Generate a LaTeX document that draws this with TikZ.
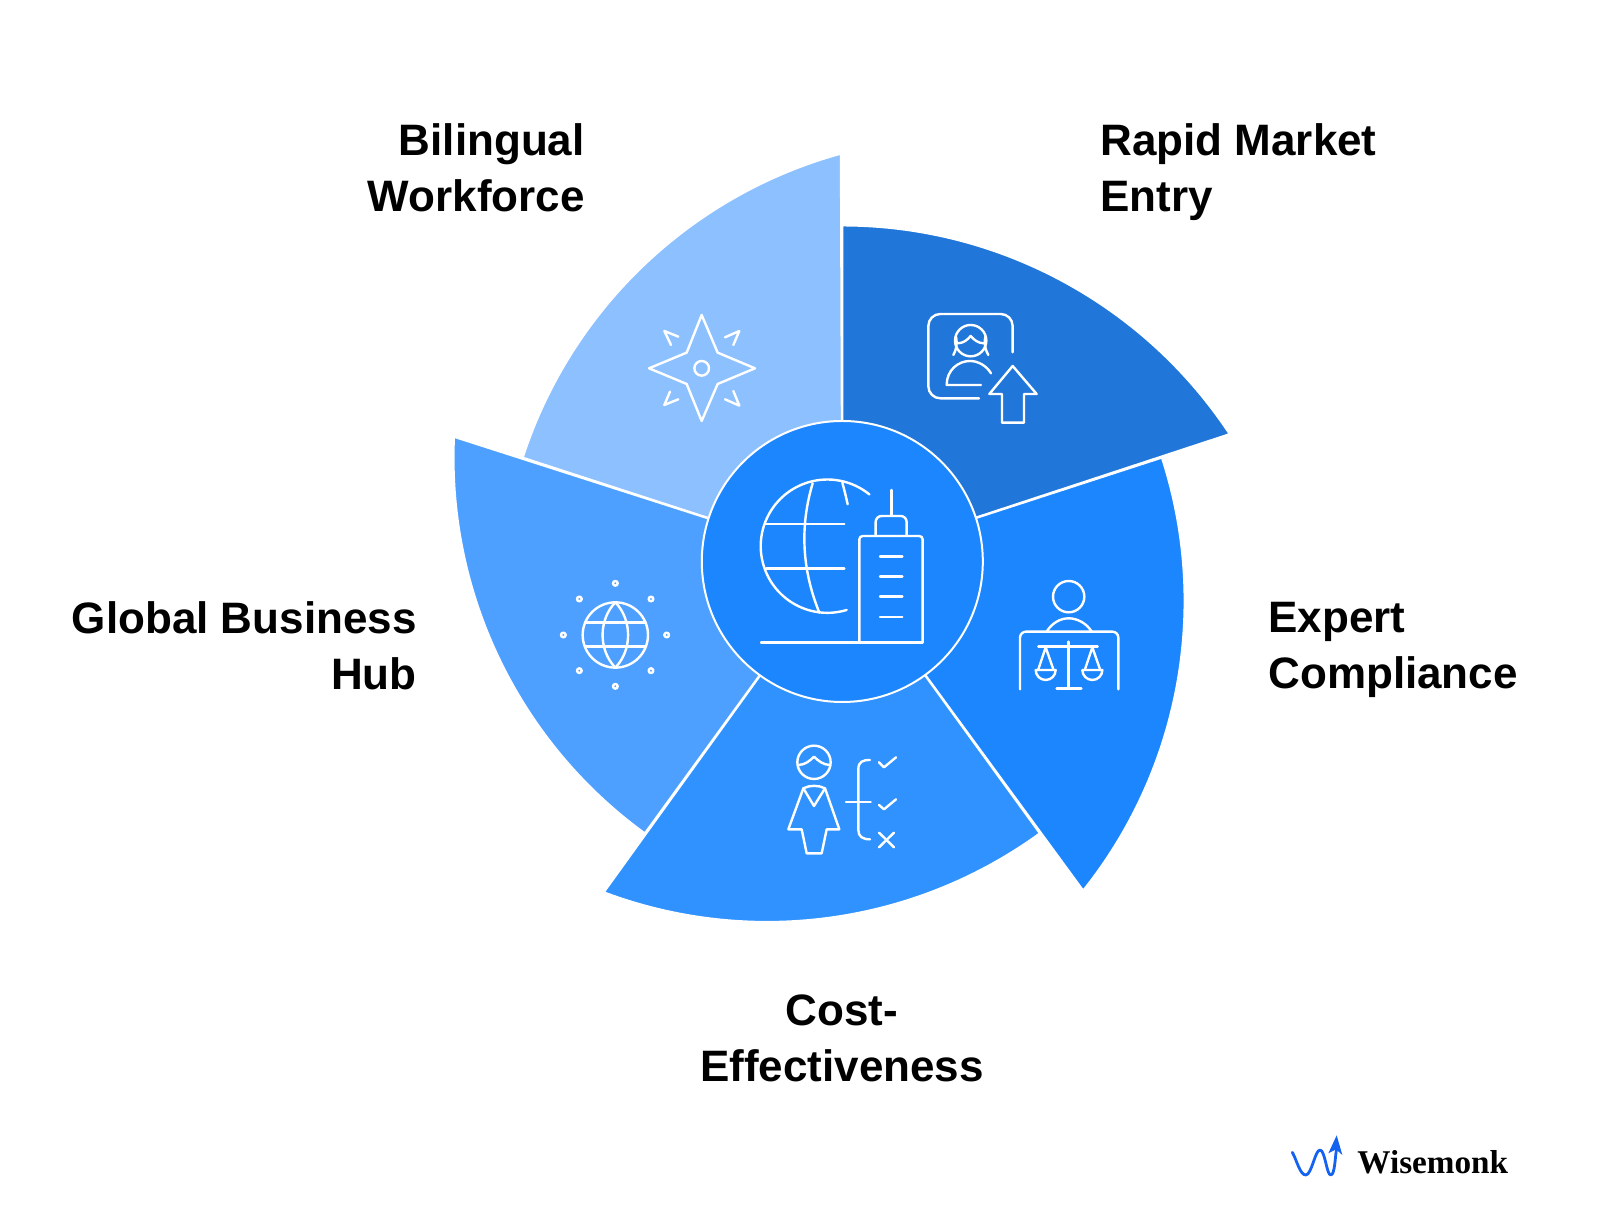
\documentclass[tikz,border=0pt]{standalone}
\usepackage{fontspec}
\setmainfont{Liberation Sans}
\newfontfamily\logofont{Liberation Serif}
\usepackage{xcolor}
\definecolor{bilingualblue}{HTML}{8DC0FF}
\definecolor{rapidblue}{HTML}{2176D9}
\definecolor{expertblue}{HTML}{1C86FF}
\definecolor{costblue}{HTML}{3092FF}
\definecolor{globalblue}{HTML}{4DA0FF}
\definecolor{logoblue}{HTML}{1463F0}
\tikzset{
	wedge/.style={draw=white, line width=1pt, line join=round},
	iconline/.style={white, line width=1.2pt, line cap=round, line join=round},
	label/.style={font=\fontsize{22}{28}\selectfont\bfseries, inner sep=0pt, text depth=0pt}
}

\begin{document}
\begin{tikzpicture}[x=0.5pt, y=0.5pt]
	\useasboundingbox (0,0) rectangle (1600,1209);
	\begin{scope}[shift={(842.3,647.5)}]
	\draw[wedge, fill=bilingualblue] (0,0) -- (162:336) arc[start angle=162, delta angle=-56.6, radius=464] -- cycle;
	\draw[wedge, fill=rapidblue] (0,0) -- (90:336) arc[start angle=90, delta angle=-56.6, radius=464] -- cycle;
	\draw[wedge, fill=expertblue] (0,0) -- (18:336) arc[start angle=18, delta angle=-56.6, radius=464] -- cycle;
	\draw[wedge, fill=costblue] (0,0) -- (-54:336) arc[start angle=-54, delta angle=-56.6, radius=464] -- cycle;
	\draw[wedge, fill=globalblue] (0,0) -- (-126:336) arc[start angle=-126, delta angle=-56.6, radius=464] -- cycle;
	\node (hub) [circle, draw=white, fill=expertblue, line width=1pt, minimum size=140.5pt, inner sep=0pt] at (0,0) {};
	\end{scope}

	\begin{scope}[shift={(880,919)}, yscale=-1, scale=0.3333, iconline]
	\draw[rounded corners=6pt] (398,187) -- (398,72) -- (145,72) -- (145,325) -- (297,325);
	\draw (272,152) circle[radius=47];
	\draw (220,195) .. controls (230,175) and (232,165) .. (228,140);
	\draw (325,195) .. controls (315,175) and (312,165) .. (316,140);
	\draw (232,160) .. controls (250,160) and (262,150) .. (272,138) .. controls (282,150) and (295,160) .. (312,160);
	\draw (303,285) -- (200,285) .. controls (200,240) and (235,213) .. (270,213) .. controls (295,213) and (320,228) .. (333,250);
	\draw (398,228) -- (470,312) -- (432,312) -- (432,398) -- (366,398) -- (366,312) -- (328,312) -- cycle;
	\end{scope}

	\begin{scope}[shift={(620,919)}, yscale=-1, scale=0.3333, iconline]
	\draw (245,75) -- (293,188) -- (405,235) -- (293,282) -- (245,393) -- (200,282) -- (87,235) -- (200,188) -- cycle;
	\draw (245,235) circle[radius=22];
	\draw (175,140) -- (133,123) -- (153,165);
	\draw (315,142) -- (358,123) -- (340,165);
	\draw (175,328) -- (133,345) -- (150,305);
	\draw (315,328) -- (358,347) -- (340,303);
	\end{scope}

	\begin{scope}[shift={(730,749)}, yscale=-1, scale=0.3333, iconline]
	\draw (350,450) arc[start angle=73.2, end angle=309.1, radius=200];
	\draw (248,70) .. controls (212,190) and (212,320) .. (268,458);
	\draw (337,68) .. controls (343,90) and (348,110) .. (353,133);
	\draw (108,192) -- (343,192);
	\draw (108,326) -- (343,326);
	\draw (93,547) -- (578,547);
	\draw[rounded corners=1.7pt] (388,547) -- (388,228) -- (578,228) -- (578,547);
	\draw[rounded corners=3pt] (437,228) -- (437,168) -- (530,168) -- (530,228);
	\draw (484,90) -- (484,165);
	\draw (450,289) -- (517,289);
	\draw (450,349) -- (517,349);
	\draw (450,410) -- (517,410);
	\draw (450,471) -- (517,471);
	\end{scope}

	\begin{scope}[shift={(1000,649)}, yscale=-1, scale=0.3333, iconline]
	\draw (206,110) circle[radius=47];
	\draw (140,215) .. controls (155,190) and (180,175) .. (206,175) .. controls (232,175) and (260,190) .. (275,215);
	\draw[rounded corners=3pt] (60,388) -- (60,215) -- (355,215) -- (355,388);
	\draw (206,245) -- (206,385);
	\draw (170,385) -- (244,385);
	\draw (115,259) -- (293,259);
	\draw (115,328) -- (137,262) -- (160,328);
	\draw (107,330) -- (167,330) arc[start angle=0, end angle=180, radius=30];
	\draw (255,328) -- (277,262) -- (300,328);
	\draw (247,330) -- (307,330) arc[start angle=0, end angle=180, radius=30];
	\end{scope}

	\begin{scope}[shift={(770,479)}, yscale=-1, scale=0.3333, iconline]
	\draw (132,97) circle[radius=50];
	\draw (85,105) .. controls (105,105) and (120,92) .. (132,80) .. controls (144,92) and (160,105) .. (180,105);
	\draw (100,175) .. controls (120,165) and (145,165) .. (165,175) -- (208,298) -- (170,298) -- (155,370) -- (110,370) -- (95,298) -- (55,298) -- cycle;
	\draw (100,175) -- (132,228) -- (165,175);
	\draw (300,90) .. controls (278,90) and (265,95) .. (265,118) -- (265,300) .. controls (265,320) and (278,328) .. (300,328);
	\draw (228,216) -- (302,216);
	\draw (327,97) -- (342,112) -- (378,82);
	\draw (327,225) -- (342,238) -- (378,208);
	\draw (327,308) -- (372,352);
	\draw (372,308) -- (327,352);
	\end{scope}

	\begin{scope}[shift={(550,639)}, yscale=-1, scale=0.3333, iconline]
	\draw (196,195) circle[radius=98];
	\draw (196,97) .. controls (145,150) and (145,240) .. (196,293);
	\draw (196,97) .. controls (247,150) and (247,240) .. (196,293);
	\draw (105,158) -- (287,158);
	\draw (105,230) -- (287,230);
	\draw (196,40) circle[radius=7];
	\draw (303,87) circle[radius=7];
	\draw (350,195) circle[radius=7];
	\draw (303,302) circle[radius=7];
	\draw (196,349) circle[radius=7];
	\draw (88,302) circle[radius=7];
	\draw (40,195) circle[radius=7];
	\draw (88,87) circle[radius=7];
	\end{scope}

	\begin{scope}[shift={(1280,89)}, yscale=-1, scale=0.3333]
	\draw[logoblue, line width=1.4pt, line cap=round, line join=round] (37,97) .. controls (50,120) and (60,165) .. (77,165) .. controls (95,165) and (105,90) .. (120,90) .. controls (135,90) and (140,165) .. (152,165) .. controls (165,165) and (165,110) .. (170,85);
	\fill[logoblue] (170,46) -- (187,105) -- (168,88) -- (145,100) -- cycle;
	\end{scope}

	\node (bilingual) [label, align=right, anchor=north east] at (585,1086) {Bilingual\\Workforce};
	\node (rapid) [label, align=left, anchor=north west] at (1100,1086) {Rapid Market\\Entry};
	\node (global) [label, align=right, anchor=north east] at (417,608) {Global Business\\Hub};
	\node (expert) [label, align=left, anchor=north west] at (1268,607) {Expert\\Compliance};
	\node (cost) [label, align=center, anchor=north] at (842,215) {Cost-\\Effectiveness};
	\node (wisemonk) [font=\logofont\fontsize{16.6}{18}\selectfont\bfseries, inner sep=0pt, anchor=base west] at (1357,35) {Wisemonk};
\end{tikzpicture}
\end{document}
